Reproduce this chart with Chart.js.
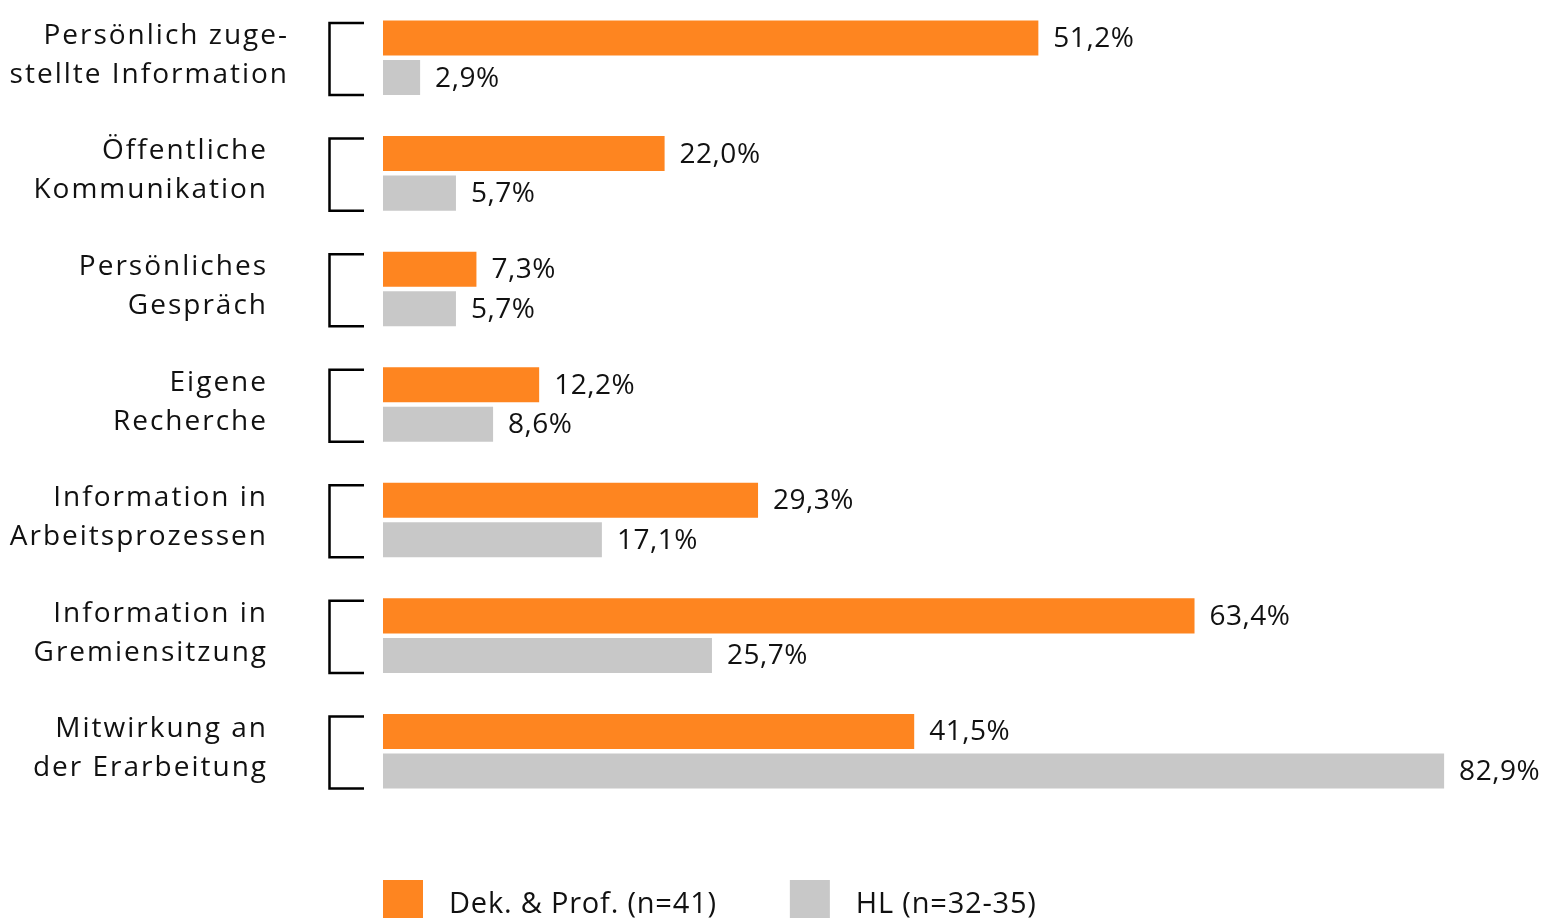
<!DOCTYPE html>
<html lang="de">
<head>
<meta charset="utf-8">
<title>Informationswege</title>
<script src="https://cdn.jsdelivr.net/npm/chart.js@4.4.1/dist/chart.umd.min.js"></script>
<style>
  html, body { margin: 0; padding: 0; background: #fff; }
  canvas { display: block; }
</style>
</head>
<body>
<canvas id="chart" width="1552" height="918"></canvas>
<script>
const categories = [
  ["Persönlich zuge-", "stellte Information"],
  ["Öffentliche", "Kommunikation"],
  ["Persönliches", "Gespräch"],
  ["Eigene", "Recherche"],
  ["Information in", "Arbeitsprozessen"],
  ["Information in", "Gremiensitzung"],
  ["Mitwirkung an", "der Erarbeitung"],
];
const profValues = [51.2, 22.0, 7.3, 12.2, 29.3, 63.4, 41.5];
const hlValues = [2.9, 5.7, 5.7, 8.6, 17.1, 25.7, 82.9];
const seriesNames = ["Dek. & Prof. (n=41)", "HL (n=32-35)"];
const seriesColors = ["#fe8520", "#c8c8c8"];

const FONT = "'Open Sans', Lato, sans-serif";
const INK = "#111";

function pct(v) {
  return v.toFixed(1).replace(".", ",") + "%";
}

// labels, brackets and legend are painted by hand around the bars
const annotations = {
  id: "annotations",
  afterDatasetsDraw(chart) {
    const { ctx, chartArea } = chart;
    ctx.save();
    ctx.fillStyle = INK;

    // value next to each bar
    ctx.font = `500 28px ${FONT}`;
    ctx.letterSpacing = "0.5px";
    ctx.textAlign = "left";
    ctx.textBaseline = "middle";
    chart.data.datasets.forEach((ds, di) => {
      chart.getDatasetMeta(di).data.forEach((bar, i) => {
        const { x, y } = bar.getProps(["x", "y"], true);
        ctx.fillText(pct(ds.data[i]), x + 15, y + 1);
      });
    });

    // bracket + category text per group
    const top = chart.getDatasetMeta(0).data;
    const bottom = chart.getDatasetMeta(1).data;
    ctx.strokeStyle = "#000";
    ctx.lineWidth = 2.5;
    ctx.font = `500 28px ${FONT}`;
    ctx.letterSpacing = "2px";
    ctx.textAlign = "right";
    ctx.textBaseline = "alphabetic";
    categories.forEach((lines, i) => {
      const a = top[i].getProps(["y", "height"], true);
      const b = bottom[i].getProps(["y", "height"], true);
      const y0 = a.y - a.height / 2 + 2.5;
      const y1 = b.y + b.height / 2;
      const bx = chartArea.left - 53.5;
      const ex = chartArea.left - 19;
      ctx.beginPath();
      ctx.moveTo(ex, y0);
      ctx.lineTo(bx, y0);
      ctx.lineTo(bx, y1);
      ctx.lineTo(ex, y1);
      ctx.stroke();

      const mid = (a.y + b.y) / 2;
      const right = i === 0 ? chartArea.left - 94 : chartArea.left - 115;
      lines.forEach((line, li) => {
        ctx.fillText(line, right, mid - 14 + li * 39);
      });
    });

    // legend under the plot
    ctx.font = `500 29px ${FONT}`;
    ctx.letterSpacing = "0.8px";
    ctx.textAlign = "left";
    let lx = chartArea.left;
    const ly = chartArea.bottom + 71;
    chart.data.datasets.forEach((ds) => {
      ctx.fillStyle = ds.backgroundColor;
      ctx.fillRect(lx, ly, 40, 40);
      ctx.fillStyle = INK;
      ctx.fillText(ds.label, lx + 66, ly + 33);
      lx += 66 + ctx.measureText(ds.label).width + 73;
    });

    ctx.restore();
  },
};

new Chart(document.getElementById("chart"), {
  type: "bar",
  data: {
    labels: categories,
    datasets: [
      {
        label: seriesNames[0],
        data: profValues,
        backgroundColor: seriesColors[0],
        categoryPercentage: 0.684,
        barPercentage: 0.886,
      },
      {
        label: seriesNames[1],
        data: hlValues,
        backgroundColor: seriesColors[1],
        categoryPercentage: 0.684,
        barPercentage: 0.886,
      },
    ],
  },
  options: {
    indexAxis: "y",
    responsive: false,
    animation: false,
    devicePixelRatio: 1,
    layout: { padding: { left: 383, right: 17, top: 0, bottom: 109 } },
    scales: {
      x: { display: false, min: 0, max: 90 },
      y: { display: false },
    },
    plugins: {
      legend: { display: false },
      tooltip: { enabled: false },
    },
  },
  plugins: [annotations],
});
</script>
</body>
</html>
